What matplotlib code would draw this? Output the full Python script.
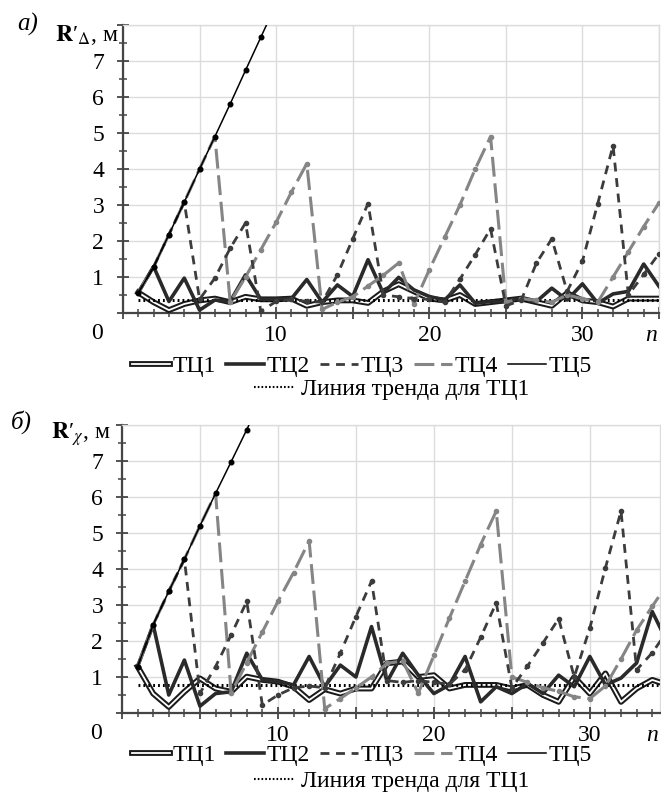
import matplotlib
matplotlib.use('Agg')
import matplotlib.pyplot as plt
import matplotlib.patheffects as pe
from matplotlib.lines import Line2D
from matplotlib.ticker import MultipleLocator, FuncFormatter

plt.rcParams['font.family'] = ['Liberation Serif', 'DejaVu Serif']
plt.rcParams['mathtext.fontset'] = 'stix'

# ---------------- data ----------------
n_steps = list(range(1, 36))
series_names = ['ТЦ1', 'ТЦ2', 'ТЦ3', 'ТЦ4', 'ТЦ5']
trend_name = 'Линия тренда для ТЦ1'

# panel a) R'_Delta
tc1_a = [0.57, 0.30, 0.08, 0.25, 0.35, 0.40, 0.30, 0.45, 0.38, 0.38, 0.40, 0.20, 0.30, 0.35, 0.35,
         0.28, 0.60, 0.80, 0.60, 0.40, 0.35, 0.50, 0.25, 0.30, 0.35, 0.40, 0.30, 0.20, 0.55, 0.35,
         0.30, 0.18, 0.40, 0.40, 0.40]
tc2_a = [0.57, 1.29, 0.32, 0.97, 0.08, 0.36, 0.32, 1.06, 0.38, 0.38, 0.40, 0.93, 0.30, 0.78, 0.46,
         1.48, 0.55, 0.99, 0.64, 0.46, 0.36, 0.78, 0.27, 0.32, 0.32, 0.41, 0.32, 0.69, 0.36, 0.81,
         0.27, 0.53, 0.60, 1.36, 0.74]
tc3_a = [0.57, 1.28, 2.18, 3.08, 0.38, 0.97, 1.80, 2.50, 0.05, 0.32, 0.38, 0.32, 0.30, 1.06, 2.06,
         3.04, 0.50, 0.45, 0.40, 0.38, 0.30, 0.94, 1.62, 2.34, 0.20, 0.35, 1.39, 2.06, 0.60, 1.44,
         3.04, 4.65, 0.50, 1.07, 1.65]
tc4_a = [0.57, 1.28, 2.18, 3.08, 4.00, 4.90, 0.30, 1.00, 1.76, 2.52, 3.36, 4.15, 0.10, 0.30, 0.45,
         0.75, 1.05, 1.39, 0.25, 1.20, 2.10, 3.00, 4.00, 4.90, 0.30, 0.40, 0.35, 0.30, 0.50, 0.40,
         0.30, 1.00, 1.70, 2.40, 3.06]
tc5_a = [0.56, 1.28, 2.18, 3.08, 4.00, 4.90, 5.81, 6.74, 7.66, 8.58]
trend_x_a = [1, 35]
trend_y_a = [0.35, 0.35]

# panel б) R'_chi
tc1_b = [1.29, 0.54, 0.17, 0.59, 0.96, 0.68, 0.59, 1.01, 0.92, 0.87, 0.73, 0.36, 0.66, 0.54, 0.68,
         0.68, 1.38, 1.43, 1.00, 1.05, 0.68, 0.78, 0.78, 0.78, 0.68, 0.78, 0.50, 0.31, 1.00, 0.54,
         1.10, 0.31, 0.68, 0.92, 0.78]
tc2_b = [1.29, 2.45, 0.50, 1.47, 0.19, 0.54, 0.59, 1.66, 0.92, 0.87, 0.78, 1.57, 0.73, 1.33, 1.00,
         2.40, 0.87, 1.66, 1.05, 0.54, 0.78, 1.57, 0.31, 0.73, 0.54, 0.82, 0.54, 1.05, 0.73, 1.57,
         0.78, 0.97, 1.39, 2.82, 1.94]
tc3_b = [1.29, 2.45, 3.38, 4.27, 0.55, 1.29, 2.17, 3.10, 0.22, 0.50, 0.70, 0.75, 0.70, 1.66, 2.68,
         3.66, 0.90, 0.85, 0.90, 0.85, 0.80, 1.20, 2.10, 3.06, 0.70, 1.30, 1.95, 2.62, 1.00, 2.36,
         4.03, 5.61, 1.20, 1.67, 2.30]
tc4_b = [1.29, 2.45, 3.38, 4.27, 5.20, 6.10, 0.55, 1.40, 2.25, 3.10, 3.90, 4.78, 0.12, 0.40, 0.70,
         1.00, 1.38, 1.45, 0.55, 1.60, 2.64, 3.66, 4.68, 5.61, 1.00, 0.85, 0.70, 0.60, 0.45, 0.40,
         0.75, 1.50, 2.30, 2.96, 3.60]
tc5_b = [1.29, 2.45, 3.38, 4.27, 5.20, 6.10, 6.98, 7.87, 8.80]
trend_x_b = [1, 35]
trend_y_b = [0.78, 0.78]

# ---------------- styles ----------------
FS = 17
C_AX = '#454545'
C_GRID = '#dcdcdc'
st1 = dict(color='white', lw=1.3,
           path_effects=[pe.Stroke(linewidth=4.2, foreground='#1a1a1a'), pe.Normal()])
st2 = dict(color='#2a2a2a', lw=2.6)
st3 = dict(color='#3c3c3c', lw=2.0, dashes=(3.2, 2.4))
st4 = dict(color='#858585', lw=2.2, dashes=(6.5, 2.2))
st5 = dict(color='black', lw=1.1)
st_tr = dict(color='black', lw=2.2, ls=(0, (0.6, 1.0)))

fig = plt.figure(figsize=(6.61, 8.01), dpi=100)


def panel(rect, xmax, s1, s2, s3, s4, s5, tx, ty, ylab, plab, ylab_xy, plab_xy, leg1_xy, leg2_xy):
    ax = fig.add_axes(rect)
    ax.set_xlim(0, xmax)
    ax.set_ylim(0, 8)
    ax.xaxis.set_major_locator(MultipleLocator(5))
    ax.xaxis.set_minor_locator(MultipleLocator(1))
    ax.yaxis.set_major_locator(MultipleLocator(1))
    ax.yaxis.set_minor_locator(MultipleLocator(0.5))
    ax.xaxis.set_major_formatter(FuncFormatter(
        lambda v, p: '' if (round(v) % 10 != 0 or round(v) == 0) else f'{int(round(v))}'))
    ax.yaxis.set_major_formatter(FuncFormatter(
        lambda v, p: '' if (round(v) < 1 or round(v) > 7) else f'{int(round(v))}'))
    ax.grid(True, which='major', color=C_GRID, lw=1.0, zorder=0)
    ax.set_axisbelow(True)
    for s in ('left', 'bottom'):
        ax.spines[s].set_color(C_AX)
        ax.spines[s].set_linewidth(1.6)
    for s in ('top', 'right'):
        ax.spines[s].set_color(C_GRID)
        ax.spines[s].set_linewidth(1.0)
    ax.tick_params(which='major', direction='inout', length=9, width=1.3, color=C_AX,
                   labelsize=FS)
    ax.tick_params(which='minor', direction='inout', length=6, width=1.1, color=C_AX)
    ax.tick_params(axis='y', which='major', pad=9)
    ax.tick_params(axis='x', which='major', pad=4)

    ax.plot(n_steps[:len(s1)], s1, zorder=3, **st1)
    ax.plot(tx, ty, zorder=3.5, **st_tr)
    ax.plot(n_steps[:len(s2)], s2, zorder=4, **st2)
    ax.plot(n_steps[:len(s3)], s3, marker='o', ms=3, zorder=5, **st3)
    ax.plot(n_steps[:len(s4)], s4, marker='o', ms=3, zorder=4.5, **st4)
    ax.plot(n_steps[:len(s5)], s5, marker='o', ms=3.3, zorder=6, **st5)

    ax.text(-0.048, -0.035, '0', transform=ax.transAxes, ha='center', va='top', fontsize=FS)
    ax.text(0.985, -0.098, 'n', transform=ax.transAxes, ha='center', va='baseline',
            fontsize=FS, style='italic')

    fig.text(ylab_xy[0] / 661, 1 - ylab_xy[1] / 801, ylab, ha='right', va='baseline', fontsize=FS)
    fig.text(plab_xy[0] / 661, 1 - plab_xy[1] / 801, plab, ha='center', va='center',
             fontsize=FS + 1, style='italic')

    h = [Line2D([], [], **st1), Line2D([], [], **st2), Line2D([], [], **st3),
         Line2D([], [], **st4), Line2D([], [], **st5)]
    fig.legend(h, series_names, loc='center', bbox_to_anchor=(leg1_xy[0] / 661, 1 - leg1_xy[1] / 801),
               ncol=5, frameon=False, fontsize=FS, handlelength=1.6, handletextpad=0.1,
               columnspacing=0.45, borderpad=0, borderaxespad=0)
    fig.legend([Line2D([], [], color='black', lw=1.5, ls=(0, (0.8, 1.0)))], [trend_name],
               loc='center', bbox_to_anchor=(leg2_xy[0] / 661, 1 - leg2_xy[1] / 801),
               frameon=False, fontsize=FS, handlelength=1.7, handletextpad=0.3,
               borderpad=0, borderaxespad=0)
    return ax


panel([123 / 661, 1 - 313 / 801, 536 / 661, 288 / 801], 35,
      tc1_a, tc2_a, tc3_a, tc4_a, tc5_a, trend_x_a, trend_y_a,
      "$\\mathbf{R}$′$_{\\Delta}$, м", 'а)', (119, 41), (28, 24), (362, 366), (392, 389))
panel([122 / 661, 1 - 713 / 801, 538 / 661, 288 / 801], 34.5,
      tc1_b, tc2_b, tc3_b, tc4_b, tc5_b, trend_x_b, trend_y_b,
      "$\\mathbf{R}$′$_{\\chi}$, м", 'б)', (111, 439), (21, 422), (362, 755), (392, 781))

fig.savefig('out.png', dpi=100)
